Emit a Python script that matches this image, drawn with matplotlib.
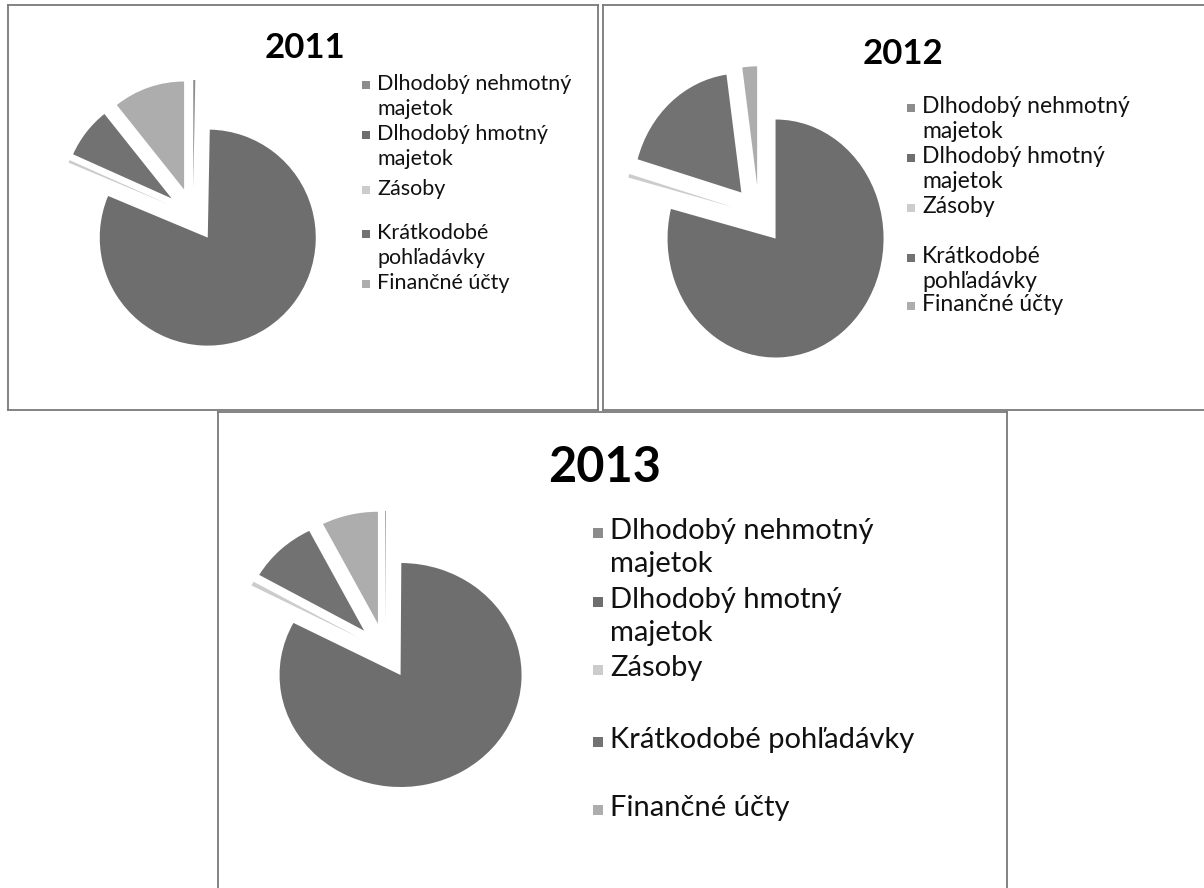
import matplotlib
matplotlib.use('Agg')
import matplotlib.pyplot as plt
from matplotlib.patches import Rectangle
from matplotlib.lines import Line2D

W, H = 1204, 888
plt.rcParams['font.family'] = ['Lato', 'DejaVu Sans']

# data (shares in %)
categories = ['Dlhodobý nehmotný majetok', 'Dlhodobý hmotný majetok', 'Zásoby',
              'Krátkodobé pohľadávky', 'Finančné účty']
years = ['2011', '2012', '2013']
share_2011 = [0.3, 81.0, 0.4, 7.6, 10.7]
share_2012 = [0.0, 79.0, 0.5, 18.3, 2.2]
share_2013 = [0.1, 82.6, 0.6, 9.2, 7.5]
colors = ['#8c8c8c', '#6e6e6e', '#cccccc', '#727272', '#adadad']

# how the legend wraps in each chart
labels_wide = ['Dlhodobý nehmotný\nmajetok', 'Dlhodobý hmotný\nmajetok', 'Zásoby',
               'Krátkodobé\npohľadávky', 'Finančné účty']
labels_2013 = ['Dlhodobý nehmotný\nmajetok', 'Dlhodobý hmotný\nmajetok', 'Zásoby',
               'Krátkodobé pohľadávky', 'Finančné účty']

fig = plt.figure(figsize=(W / 100, H / 100), dpi=100)
fig.patch.set_facecolor('white')


def fx(x):
    return x / W


def fy(y):
    return 1 - y / H


def box(x0, y0, x1, y1):
    for xs, ys in (((x0, x1), (y0, y0)), ((x0, x1), (y1, y1)),
                   ((x0, x0), (y0, y1)), ((x1, x1), (y0, y1))):
        fig.add_artist(Line2D([fx(v) for v in xs], [fy(v) for v in ys],
                              color='#7a7a7a', lw=1.3))


def pie(values, cx, cy, rx, ry):
    L = 1.6
    ax = fig.add_axes([fx(cx - L * rx), fy(cy + L * ry), 2 * L * rx / W, 2 * L * ry / H])
    ax.pie(values, radius=1, explode=[0.25] * len(values), startangle=90,
           counterclock=False, colors=colors, wedgeprops=dict(linewidth=0))
    ax.set_aspect('auto')
    ax.set_xlim(-L, L)
    ax.set_ylim(-L, L)
    ax.axis('off')


def legend(labels, xm, xt, ys, size, msize, spacing):
    for i, (lab, y) in enumerate(zip(labels, ys)):
        fig.add_artist(Rectangle((fx(xm - msize / 2), fy(y + msize / 2)), msize / W, msize / H,
                                 transform=fig.transFigure, facecolor=colors[i],
                                 edgecolor='none'))
        fig.text(fx(xt), fy(y - size * 0.72), lab, fontsize=size, va='top', ha='left',
                 linespacing=spacing, color='#111111')


# borders
box(8, 5, 598, 410)
box(603, 5, 1210, 410)
box(218, 412, 1007, 900)

# 2011
fig.text(fx(305), fy(48), years[0], fontsize=25, fontweight='bold', ha='center', va='center')
pie(share_2011, 193, 215, 108, 108)
legend(labels_wide, 366, 377, [85, 135, 190, 234, 284], 15.5, 8, 1.3)

# 2012
fig.text(fx(903), fy(54), years[1], fontsize=25, fontweight='bold', ha='center', va='center')
pie(share_2012, 759, 215, 108, 119)
legend(labels_wide, 911, 922, [108, 158, 208, 258, 306], 16.5, 8, 1.2)

# 2013
fig.text(fx(605), fy(468), years[2], fontsize=35, fontweight='bold', ha='center', va='center')
pie(share_2013, 385, 651, 121, 112)
legend(labels_2013, 598, 610, [533, 602, 670, 742, 810], 21, 10, 1.35)

fig.savefig('out.png', dpi=100, facecolor='white')
